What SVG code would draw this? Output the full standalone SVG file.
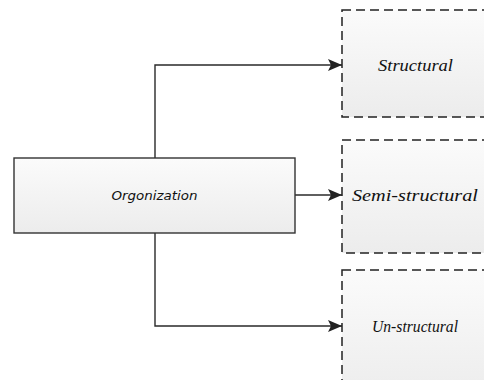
<svg xmlns="http://www.w3.org/2000/svg" width="484" height="380" viewBox="0 0 484 380">
<style>
.conn{fill:none;stroke:#2a2a2a;stroke-width:1.4}
.solid{fill:url(#g);stroke:#333;stroke-width:1.4}
.dash{fill:url(#g);stroke:#222;stroke-width:1.5;stroke-dasharray:9 5}
.lbl{font-family:"Liberation Serif",serif;font-style:italic;font-size:17px;fill:#111;text-anchor:middle}
.org{font-family:"DejaVu Sans",sans-serif;font-style:italic;font-size:12px;fill:#111;text-anchor:middle}
</style>
<defs>
<linearGradient id="g" x1="0" y1="0" x2="0" y2="1">
<stop offset="0" stop-color="#fbfbfb"/>
<stop offset="1" stop-color="#ececec"/>
</linearGradient>
<marker id="ah" markerWidth="14" markerHeight="12" refX="14" refY="6" orient="auto" markerUnits="userSpaceOnUse">
<path d="M0,0 L14,6 L0,12 L3,6 Z" fill="#222"/>
</marker>
</defs>
<rect width="484" height="380" fill="#fff"/>
<g id="connectors">
<path class="conn" d="M155,158 V65 H342" marker-end="url(#ah)"/>
<path class="conn" d="M295,195 H342" marker-end="url(#ah)"/>
<path class="conn" d="M155,233 V326 H342" marker-end="url(#ah)"/>
</g>
<g id="organization">
<rect class="solid" x="14" y="158" width="281" height="75"/>
<text class="org" x="154.5" y="200" textLength="86" lengthAdjust="spacingAndGlyphs">Orgonization</text>
</g>
<g id="structural">
<rect class="dash" x="342" y="10" width="160" height="107"/>
<text class="lbl" x="415.5" y="71" textLength="75" lengthAdjust="spacingAndGlyphs">Structural</text>
</g>
<g id="semi-structural">
<rect class="dash" x="342" y="140" width="160" height="113"/>
<text class="lbl" x="415" y="201" textLength="126" lengthAdjust="spacingAndGlyphs">Semi-structural</text>
</g>
<g id="un-structural">
<rect class="dash" x="342" y="270" width="160" height="130"/>
<text class="lbl" x="415" y="332" textLength="86" lengthAdjust="spacingAndGlyphs">Un-structural</text>
</g>
</svg>
